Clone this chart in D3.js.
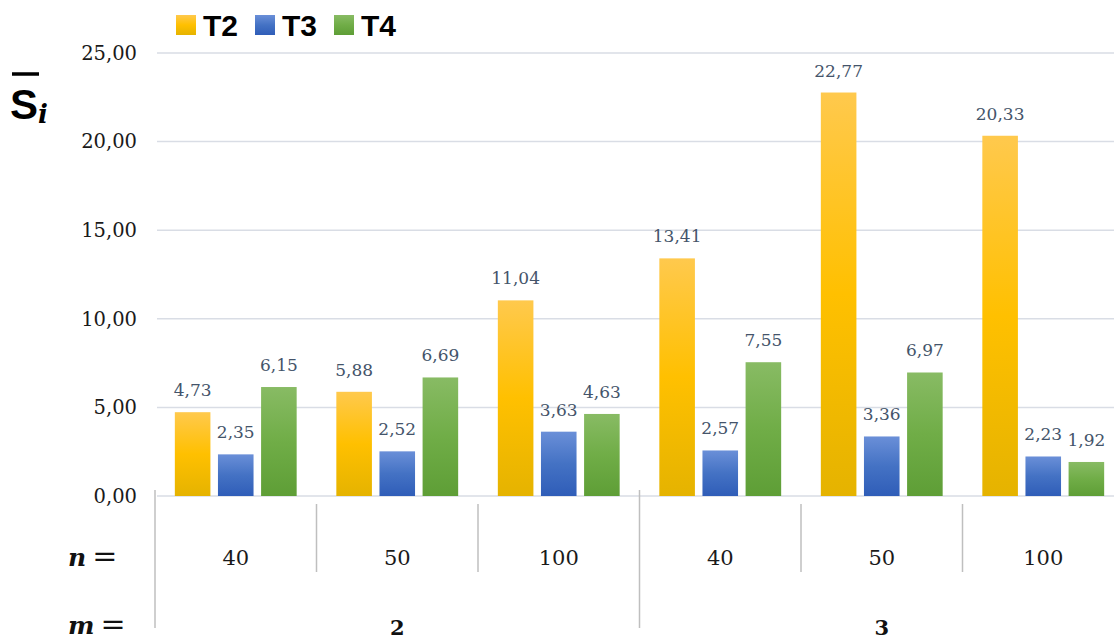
<!DOCTYPE html>
<html>
<head>
<meta charset="utf-8">
<script src="https://cdn.jsdelivr.net/npm/d3@7/dist/d3.min.js"></script>
<style>
  html, body { margin: 0; padding: 0; background: #fff; overflow: hidden; }
  svg { display: block; }
</style>
</head>
<body>
<svg id="chart" width="1114" height="640"></svg>
<script>
const nLabels = ["40", "50", "100", "40", "50", "100"];
const mLabels = ["2", "3"];
const seriesNames = ["T2", "T3", "T4"];
const T2 = [4.73, 5.88, 11.04, 13.41, 22.77, 20.33];
const T3 = [2.35, 2.52, 3.63, 2.57, 3.36, 2.23];
const T4 = [6.15, 6.69, 4.63, 7.55, 6.97, 1.92];
const yTicks = [0, 5, 10, 15, 20, 25];

const seriesValues = [T2, T3, T4];
const colors = [
  { top: "#ffc94d", mid: "#ffc000", bot: "#e5b300" },
  { top: "#6a8fd8", mid: "#4472c4", bot: "#2f5db8" },
  { top: "#88bb64", mid: "#70ad47", bot: "#5e9e36" }
];

const svg = d3.select("#chart");
const groupKeys = nLabels.map((d, i) => i);
const x0 = d3.scaleBand().domain(groupKeys).range([155, 1124]).paddingInner(0).paddingOuter(0);
const x1 = d3.scaleBand().domain(seriesNames).range([0, x0.bandwidth()]).paddingInner(0.175).paddingOuter(0.46);
const y = d3.scaleLinear().domain([0, 25]).range([496, 53]);
const fmt = v => d3.format(".2f")(v).replace(".", ",");

// gradients
const defs = svg.append("defs");
colors.forEach((c, i) => {
  const g = defs.append("linearGradient").attr("id", "g" + i)
    .attr("x1", 0).attr("y1", 0).attr("x2", 0).attr("y2", 1);
  g.append("stop").attr("offset", "0%").attr("stop-color", c.top);
  g.append("stop").attr("offset", "50%").attr("stop-color", c.mid);
  g.append("stop").attr("offset", "100%").attr("stop-color", c.bot);
});

// gridlines
svg.append("g").selectAll("line").data(yTicks).join("line")
  .attr("x1", 157).attr("x2", 1114)
  .attr("y1", d => y(d)).attr("y2", d => y(d))
  .attr("stroke", "#d9dde5").attr("stroke-width", 1.5);

// y axis labels
const yAxis = d3.axisLeft(y).tickValues(yTicks).tickFormat(fmt).tickSize(0).tickPadding(0);
const ya = svg.append("g").attr("transform", "translate(137,0)").call(yAxis);
ya.select(".domain").remove();
ya.selectAll("text").attr("font-family", "DejaVu Serif").attr("font-size", 19.5)
  .attr("fill", "#1a1a1a").attr("dy", "0.32em");

// bars
const groups = svg.append("g").selectAll("g").data(groupKeys).join("g")
  .attr("transform", d => `translate(${x0(d)},0)`);
const rows = gi => seriesNames.map((s, si) => ({ s, si, v: seriesValues[si][gi] }));
groups.selectAll("rect").data(rows).join("rect")
  .attr("x", d => x1(d.s)).attr("width", x1.bandwidth())
  .attr("y", d => y(d.v)).attr("height", d => y(0) - y(d.v))
  .attr("fill", d => `url(#g${d.si})`);
groups.selectAll("text").data(rows).join("text")
  .attr("x", d => x1(d.s) + x1.bandwidth() / 2)
  .attr("y", d => y(d.v) - 16)
  .attr("text-anchor", "middle")
  .attr("font-family", "DejaVu Serif").attr("font-size", 17)
  .attr("fill", "#44546a")
  .text(d => fmt(d.v));

// category axis lines
const divColor = "#bfbfbf";
const nDivs = [1, 2, 4, 5];
svg.append("g").selectAll("line").data(nDivs).join("line")
  .attr("x1", d => x0(d)).attr("x2", d => x0(d))
  .attr("y1", 504).attr("y2", 572)
  .attr("stroke", divColor).attr("stroke-width", 1.5);
const mDivs = [0, 3, 6];
svg.append("g").selectAll("line").data(mDivs).join("line")
  .attr("x1", d => d < 6 ? x0(d) : x0(5) + x0.bandwidth())
  .attr("x2", d => d < 6 ? x0(d) : x0(5) + x0.bandwidth())
  .attr("y1", 490).attr("y2", 628)
  .attr("stroke", divColor).attr("stroke-width", 1.5);

// n labels
svg.append("g").selectAll("text").data(groupKeys).join("text")
  .attr("x", d => x0(d) + x0.bandwidth() / 2).attr("y", 565)
  .attr("text-anchor", "middle")
  .attr("font-family", "DejaVu Serif").attr("font-size", 21)
  .attr("fill", "#1a1a1a")
  .text(d => nLabels[d]);

// m labels
svg.append("g").selectAll("text").data(mLabels).join("text")
  .attr("x", (d, i) => x0(i * 3) + x0.bandwidth() * 1.5).attr("y", 635)
  .attr("text-anchor", "middle")
  .attr("font-family", "DejaVu Serif").attr("font-weight", "bold").attr("font-size", 21)
  .attr("fill", "#111")
  .text(d => d);

// row titles
const rowTitle = (txt, yy) => {
  const t = svg.append("text").attr("x", 68).attr("y", yy)
    .attr("font-family", "DejaVu Serif").attr("font-size", 25).attr("fill", "#111");
  t.append("tspan").attr("font-weight", "bold").attr("font-style", "italic").text(txt);
  t.append("tspan").attr("dx", 6).attr("font-size", 30).text("=");
};
rowTitle("n", 566);
rowTitle("m", 634);

// y label S̄_i
const yl = svg.append("text").attr("x", 10).attr("y", 119)
  .attr("font-family", "Liberation Sans").attr("font-weight", "bold").attr("font-size", 42).attr("fill", "#000");
yl.append("tspan").text("S");
yl.append("tspan").attr("font-family", "DejaVu Serif").attr("font-style", "italic").attr("font-weight", "bold")
  .attr("font-size", 26).attr("dx", 0).attr("dy", 4).text("i");
svg.append("line").attr("x1", 12).attr("x2", 39).attr("y1", 74).attr("y2", 74)
  .attr("stroke", "#000").attr("stroke-width", 3.5);

// legend
const legend = svg.append("g").attr("transform", "translate(176,15)");
const legX = [0, 79, 158];
seriesNames.forEach((s, i) => {
  const g = legend.append("g").attr("transform", `translate(${legX[i]},0)`);
  g.append("rect").attr("width", 20).attr("height", 20).attr("fill", `url(#g${i})`);
  g.append("text").attr("x", 27).attr("y", 21)
    .attr("font-family", "Liberation Sans").attr("font-weight", "bold").attr("font-size", 30)
    .attr("fill", "#000").text(s);
});
</script>
</body>
</html>
